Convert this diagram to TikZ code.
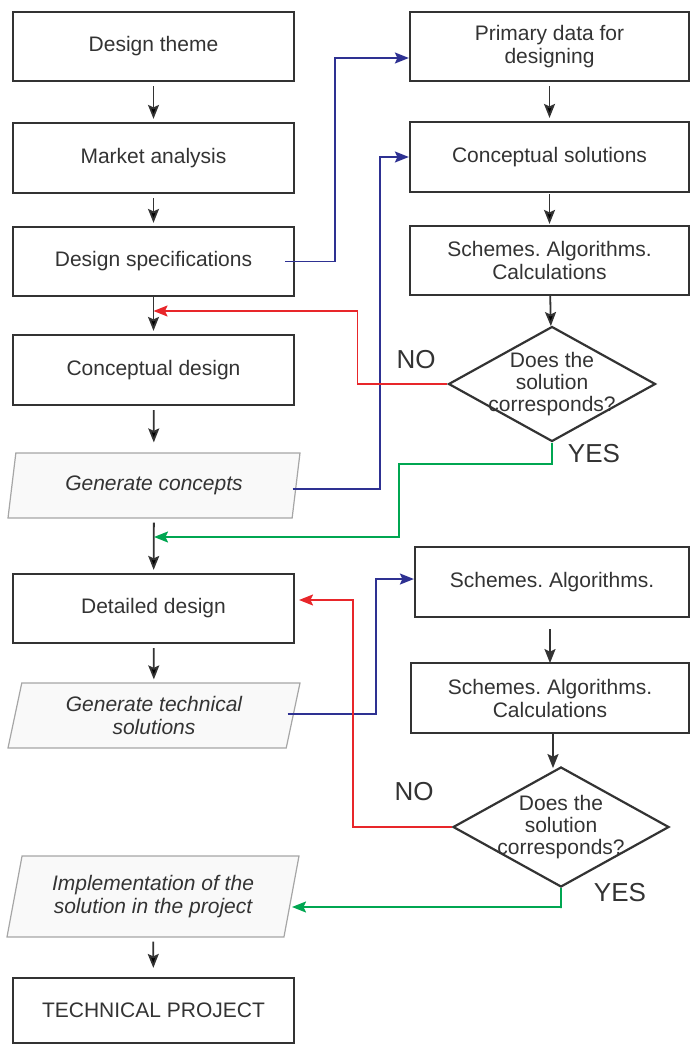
\documentclass[tikz,border=0pt]{standalone}
\usepackage{fontspec}
\setmainfont{Liberation Sans}
\usepackage{tikz}
\usepgflibrary{shapes}
\usetikzlibrary{arrows.meta}
\usepackage{xcolor}
\definecolor{ink}{HTML}{333333}
\definecolor{linkblue}{HTML}{2E3192}
\definecolor{backred}{HTML}{E8262A}
\definecolor{yesgreen}{HTML}{00A651}
\frenchspacing

\begin{document}
\begin{tikzpicture}[x=1pt,y=-1pt,->,>={Stealth[length=14pt,width=11pt,inset=2.5pt]},line width=1.8pt,
  font=\fontsize{21}{23}\selectfont,
  box/.style={draw=ink,line width=2.2pt,rectangle,minimum width=281pt,minimum height=69pt,align=center,text=ink},
  slant/.style={draw=gray!70,line width=1.2pt,fill=gray!5,trapezium,trapezium left angle=73,trapezium right angle=107,
    trapezium stretches body,minimum width=292pt,minimum height=65pt,align=center,font=\fontsize{21}{23}\selectfont\itshape,text=ink},
  check/.style={draw=ink,line width=2.2pt,diamond,inner sep=0pt,minimum width=207pt,minimum height=115pt},
  ask/.style={align=center,text=ink,font=\fontsize{21}{22}\selectfont},
  flow/.style={draw=ink,shorten <=4pt,shorten >=3pt},
  answer/.style={text=ink,font=\fontsize{26}{26}\selectfont}]
  \useasboundingbox (0,0) rectangle (690,1044);

  \node[box]                       (A) at (153.5,46.5)  {Design theme};
  \node[box,minimum height=70pt]   (B) at (153.5,158)   {Market analysis};
  \node[box]                       (C) at (153.5,261.5) {Design specifications};
  \node[box,minimum height=70pt]   (D) at (153.5,370)   {Conceptual design};
  \node[slant]                     (E) at (154,485.5)   {Generate concepts};
  \node[box]                       (F) at (153.5,608.5) {Detailed design};
  \node[slant]                     (G) at (154,715.5)   {Generate technical\\solutions};
  \node[slant,minimum height=81pt] (H) at (153,896.5)   {Implementation of the\\solution in the project};
  \node[box,minimum height=65pt]   (I) at (153.5,1010.5) {TECHNICAL PROJECT};

  \node[box,minimum width=279pt]                    (P) at (549.5,46.5)  {Primary data for\\designing};
  \node[box,minimum width=279pt,minimum height=70pt] (Q) at (549.5,157)   {Conceptual solutions};
  \node[box,minimum width=279pt]                    (R) at (549.5,260.5) {Schemes. Algorithms.\\Calculations};
  \node[check,label={[ask]center:Does the\\solution\\corresponds?}] (S) at (552,384) {};
  \node[box,minimum width=274pt,minimum height=70pt] (T) at (552,582)   {Schemes. Algorithms.};
  \node[box,minimum width=278pt,minimum height=70pt] (U) at (550,698)   {Schemes. Algorithms.\\Calculations};
  \node[check,minimum width=216pt,minimum height=120pt,label={[ask]center:Does the\\solution\\corresponds?}] (V) at (561,827) {};

  \node[answer] (N1) at (416,360) {NO};
  \node[answer] (Y1) at (594,454) {YES};
  \node[answer] (N2) at (414,792) {NO};
  \node[answer] (Y2) at (620,893) {YES};

  \coordinate (c1) at (153.5,311);
  \coordinate (c2) at (299,600);
  \coordinate (c3) at (154,537);
  \coordinate (c4) at (292,907);

  \path[flow] (A) edge (B)
              (B) edge (C)
              (C) edge[shorten <=0pt] (D)
              (D) edge[shorten >=10pt] (E)
              (E) edge (F)
              (F) edge (G)
              (H) edge[shorten >=9pt] (I)
              (P) edge (Q)
              (Q) edge[shorten <=1pt,shorten >=1pt] (R)
              (R) edge[shorten >=0pt,shorten <=0pt] (S);
  \draw[flow,shorten <=11pt,shorten >=1pt] ([xshift=-2pt]T.south) -- ++(0,46);
  \draw[flow,shorten <=0pt,shorten >=0pt] ([xshift=3pt]U.south) -- ++(0,34);

  \draw[linkblue] ([xshift=-10pt]C.east) -- ++(50,0) |- ([yshift=-11.5pt]P.west);
  \draw[linkblue] ([xshift=-4pt,yshift=-3.5pt]E.east) -- ++(87,0) |- (Q.west);
  \draw[linkblue] ([xshift=-6pt,yshift=1.5pt]G.east) -- ++(88,0) |- ([yshift=3pt]T.west);

  \draw[backred] (S.west) -- ++(-90,0) |- (c1);
  \draw[backred] (V.west) -- ++(-99,0) |- (c2);

  \draw[yesgreen] (S.south) -- ++(0,21) -- ++(-153,0) |- (c3);
  \draw[yesgreen] (V.south) -- ++(0,20) |- (c4);
\end{tikzpicture}
\end{document}
